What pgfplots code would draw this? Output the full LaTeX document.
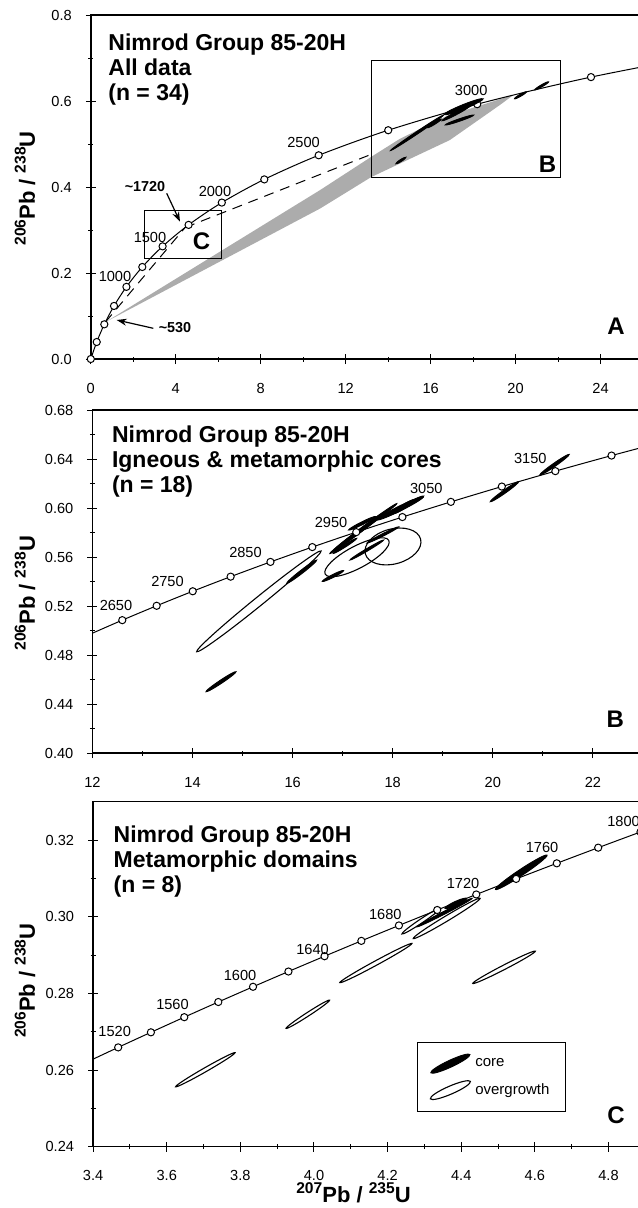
\documentclass[border=0pt]{standalone}
\usepackage{fontspec}
\setmainfont{Liberation Sans}
\usepackage{pgfplots}
\pgfplotsset{compat=1.18}
\usetikzlibrary{arrows.meta}

% ellipse marker: semi-axes a, b (pt) and angle t (deg) come from the table
\newcommand\ellpath[3]{%
  \pgfkeys{/pgf/fpu=false}%
  \pgfmathsetmacro\elax{(#1)*cos(#3)}%
  \pgfmathsetmacro\elay{(#1)*sin(#3)}%
  \pgfmathsetmacro\elbx{-(#2)*sin(#3)}%
  \pgfmathsetmacro\elby{(#2)*cos(#3)}%
  \pgfpathellipse{\pgfpointorigin}{\pgfpoint{\elax pt}{\elay pt}}{\pgfpoint{\elbx pt}{\elby pt}}}
\pgfdeclareplotmark{ellf}{\ellpath{\elA}{\elB}{\elT}\pgfusepathqfillstroke}
\pgfdeclareplotmark{ello}{\ellpath{\elA}{\elB}{\elT}\pgfusepathqstroke}
\pgfdeclareplotmark{legf}{\ellpath{10.8}{1.7}{25}\pgfusepathqfillstroke}
\pgfdeclareplotmark{lego}{\ellpath{10.9}{2.0}{23.5}\pgfusepathqstroke}

\newcommand\fT{\fontsize{11.5}{12.5}\selectfont\bfseries}
\newcommand\fN{\fontsize{7.3}{8}\selectfont}
\newcommand\fP{\fontsize{12}{14}\selectfont\bfseries}
\newcommand\fB{\fontsize{7.2}{8}\selectfont\bfseries}
\newcommand\iso[1]{\raisebox{0.42em}{\fontsize{7.8}{8}\selectfont\bfseries #1}}
\newcommand\ratio[2]{{\fontsize{11}{12}\selectfont\bfseries\iso{#1}Pb / \iso{#2}U}}

\pgfplotsset{
  nim/.style={
    scale only axis, anchor=south west, clip=true,
    axis line style={line width=0.75pt},
    tick pos=left, tick align=center,
    major tick length=5pt, minor tick length=2.5pt,
    every tick/.style={black, line width=0.5pt},
    minor x tick num=1, minor y tick num=1,
    tick label style={font=\fontsize{7.3}{8}\selectfont},
    xticklabel style={yshift=-6pt},
    yticklabel style={xshift=-3.5pt},
    /pgf/number format/assume math mode=true,
    every axis y label/.style={rotate=90, anchor=center},
    every axis x label/.style={anchor=center},
  },
  ellfill/.style={scatter, only marks, mark=ellf, point meta=y,
    scatter/use mapped color={draw=black, fill=black},
    mark options={line width=0.45pt},
    visualization depends on={value \thisrow{a}\as\elA},
    visualization depends on={value \thisrow{b}\as\elB},
    visualization depends on={value \thisrow{t}\as\elT}},
  ellopen/.style={ellfill, mark=ello, mark options={line width=0.55pt}},
  conc/.style={smooth, black, line width=0.5pt},
  circ/.style={only marks, mark=*, mark size=1.8pt,
    mark options={fill=white, draw=black, line width=0.5pt}},
  dsh/.style={black, line width=0.5pt, dash pattern=on 5pt off 3.5pt},
}

\begin{document}
\begin{tikzpicture}

% ---------------- panel A ----------------
\begin{axis}[nim, at={(45.4pt,-179.5pt)}, width=276.1pt, height=172pt,
  xmin=0, xmax=26, ymin=0, ymax=0.8,
  xtick={0,4,8,12,16,20,24}, ytick={0,0.2,0.4,0.6,0.8},
  yticklabel style={/pgf/number format/.cd, fixed, fixed zerofill, precision=1},
  ylabel={\ratio{206}{238}},
  ylabel style={at={(axis description cs:-0.1192,0.496)}}]
\addplot[fill=gray!65, draw=none] coordinates {
  (0.685,0.0857) (10.8,0.393) (13.2,0.470) (14.55,0.512) (16.75,0.565) (19.9,0.614)
  (19.27,0.591) (16.9,0.509) (13.2,0.423) (10.8,0.350)} --cycle;
\addplot[dsh] coordinates {(0.685,0.0857) (4.6,0.3151)};
\addplot[dsh] coordinates {(4.441,0.3058) (13.3,0.4778)};
\addplot[conc] coordinates {
  (0,0) (0.27917,0.03954) (0.63628,0.08065) (1.09308,0.12338) (1.67741,0.16780)
  (2.42487,0.21398) (3.38099,0.26199) (4.60404,0.31189) (6.16852,0.36377)
  (8.16978,0.41769) (10.7297,0.47375) (14.0043,0.53203) (18.1931,0.59261)
  (23.5512,0.65559) (30.4052,0.72106)};
\addplot[circ] coordinates {
  (0,0) (0.27917,0.03954) (0.63628,0.08065) (1.09308,0.12338) (1.67741,0.16780)
  (2.42487,0.21398) (3.38099,0.26199) (4.60404,0.31189) (6.16852,0.36377)
  (8.16978,0.41769) (10.7297,0.47375) (14.0043,0.53203) (18.1931,0.59261)
  (23.5512,0.65559)};
\addplot[ellfill] table[row sep=\\] {
  x y a b t \\
  15.358 0.526 16 0.6 33.8 \\
  17.556 0.5867 10.5 1.1 22 \\
  17.2 0.5715 8 0.7 28 \\
  17.359 0.5558 7.5 0.6 19 \\
  14.6 0.4616 3 0.5 33 \\
  20.23 0.6133 3.5 0.5 30 \\
  21.23 0.6353 4 0.5 30 \\
  16.18 0.548 4 0.5 32 \\
};
\addplot[black, line width=0.5pt] coordinates {(2.519,0.2326) (6.163,0.2326) (6.163,0.3449) (2.519,0.3449)} --cycle;
\addplot[black, line width=0.5pt] coordinates {(13.206,0.4226) (22.137,0.4226) (22.137,0.6953) (13.206,0.6953)} --cycle;
\addplot[black, line width=0.6pt, -{Stealth[length=5pt,width=3.5pt]}] coordinates {(3.573,0.3853) (4.2,0.3193)};
\addplot[black, line width=0.6pt, -{Stealth[length=5pt,width=3.5pt]}] coordinates {(2.943,0.0714) (1.219,0.0907)};
\end{axis}

% ---------------- panel B ----------------
\begin{axis}[nim, at={(46.2pt,-376.5pt)}, width=275.3pt, height=171.5pt,
  xmin=12, xmax=23, ymin=0.40, ymax=0.68,
  xtick={12,14,16,18,20,22}, ytick={0.40,0.44,0.48,0.52,0.56,0.60,0.64,0.68},
  yticklabel style={/pgf/number format/.cd, fixed, fixed zerofill, precision=2},
  ylabel={\ratio{206}{238}},
  ylabel style={at={(axis description cs:-0.1224,0.4656)}}]
\addplot[conc] coordinates {
  (11.9437,0.49679) (12.5970,0.50845) (13.2834,0.52019) (14.0043,0.53203)
  (14.7617,0.54396) (15.5572,0.55598) (16.3929,0.56810) (17.2709,0.58031)
  (18.1931,0.59261) (19.1618,0.60501) (20.1795,0.61751) (21.2486,0.63010)
  (22.3715,0.64280) (23.5512,0.65559)};
\addplot[ellopen] table[row sep=\\] {
  x y a b t \\
  15.326 0.5238 40 2.2 39 \\
  17.286 0.5598 18 5.5 28 \\
  18.005 0.5686 14.3 8.75 15 \\
};
\addplot[ellfill] table[row sep=\\] {
  x y a b t \\
  14.569 0.4582 9 0.8 33.7 \\
  16.181 0.548 9.5 0.8 37.8 \\
  16.806 0.5445 6 0.7 27 \\
  17.302 0.580 17.5 0.8 37 \\
  17.454 0.5847 19.5 0.8 36.4 \\
  17.481 0.5657 9.8 0.6 30.7 \\
  17.801 0.578 8.9 0.6 27 \\
  18.151 0.5998 13 1.2 26.5 \\
  18.219 0.6011 6 1.0 33.7 \\
  20.232 0.6133 8.7 0.8 35.2 \\
  21.231 0.6353 9 0.8 35 \\
  17.386 0.5875 7.5 0.7 26.6 \\
  18.334 0.6034 8.1 0.8 29 \\
  17.046 0.5691 7 0.6 32.7 \\
};
\addplot[circ] coordinates {
  (12.5970,0.50845) (13.2834,0.52019) (14.0043,0.53203)
  (14.7617,0.54396) (15.5572,0.55598) (16.3929,0.56810) (17.2709,0.58031)
  (18.1931,0.59261) (19.1618,0.60501) (20.1795,0.61751) (21.2486,0.63010)
  (22.3715,0.64280)};
\end{axis}

% ---------------- panel C ----------------
\begin{axis}[nim, at={(46.55pt,-573.35pt)}, width=276.1pt, height=172.5pt,
  xmin=3.4, xmax=4.9, ymin=0.24, ymax=0.33,
  xtick={3.4,3.6,3.8,4.0,4.2,4.4,4.6,4.8}, ytick={0.24,0.26,0.28,0.30,0.32},
  xticklabel style={/pgf/number format/.cd, fixed, fixed zerofill, precision=1},
  yticklabel style={/pgf/number format/.cd, fixed, fixed zerofill, precision=2},
  ylabel={\ratio{206}{238}},
  ylabel style={at={(axis description cs:-0.1233,0.481)}},
  xlabel={\ratio{207}{235}},
  xlabel style={at={(axis description cs:0.4716,-0.1342)}},
  legend style={at={(0.5866,0.3026)}, anchor=north west, draw=black, line width=0.5pt,
    font=\fontsize{7.5}{8}\selectfont, inner xsep=6pt, inner ysep=5pt, row sep=3pt},
  legend cell align=left]
\addlegendimage{legend image code/.code={\pgfsetlinewidth{0.45pt}\pgfsetfillcolor{black}\pgftransformshift{\pgfpoint{10pt}{0pt}}\pgfuseplotmark{legf}}}
\addlegendentry{core}
\addlegendimage{legend image code/.code={\pgfsetlinewidth{0.55pt}\pgftransformshift{\pgfpoint{10pt}{0pt}}\pgfuseplotmark{lego}}}
\addlegendentry{overgrowth}
\addplot[conc, forget plot] coordinates {
  (3.38099,0.26199) (3.46814,0.26591) (3.55702,0.26984) (3.64767,0.27379)
  (3.74012,0.27775) (3.83441,0.28172) (3.93058,0.28570) (4.02866,0.28969)
  (4.12869,0.29370) (4.23072,0.29772) (4.33477,0.30175) (4.44089,0.30580)
  (4.54912,0.30986) (4.65950,0.31393) (4.77208,0.31801) (4.88690,0.32210)
  (5.00401,0.32621)};
\addplot[ellopen, forget plot] table[row sep=\\] {
  x y a b t \\
  3.7048 0.26008 17.1 1.0 29.8 \\
  3.9833 0.27455 13 0.9 33 \\
  4.1680 0.2879 20.5 1.1 28.5 \\
  4.5163 0.2868 17.6 1.1 27.3 \\
  4.2908 0.29885 11.5 1.0 33.9 \\
  4.3606 0.29956 19.5 1.3 31 \\
};
\addplot[ellfill, forget plot] table[row sep=\\] {
  x y a b t \\
  4.563 0.31158 15.5 1.5 33.6 \\
  4.3853 0.30347 6 1.0 24.7 \\
  4.3546 0.30107 15.5 0.7 27.3 \\
};
\addplot[circ, forget plot] coordinates {
  (3.46814,0.26591) (3.55702,0.26984) (3.64767,0.27379)
  (3.74012,0.27775) (3.83441,0.28172) (3.93058,0.28570) (4.02866,0.28969)
  (4.12869,0.29370) (4.23072,0.29772) (4.33477,0.30175) (4.44089,0.30580)
  (4.54912,0.30986) (4.65950,0.31393) (4.77208,0.31801) (4.88690,0.32210)};
\end{axis}

% ---------------- annotations ----------------
\node[anchor=north west, inner sep=0, align=left, font=\fT] at (54pt,-16.7pt) {Nimrod Group 85-20H\\All data\\(n = 34)};
\node[font=\fN] at (57.5pt,-138pt) {1000};
\node[font=\fN] at (75pt,-118.5pt) {1500};
\node[font=\fN] at (107.5pt,-95.5pt) {2000};
\node[font=\fN] at (151.75pt,-71pt) {2500};
\node[font=\fN] at (235.6pt,-45.4pt) {3000};
\node[font=\fB] at (72.5pt,-93.5pt) {\textasciitilde1720};
\node[font=\fB] at (87.5pt,-164pt) {\textasciitilde530};
\node[font=\fP] at (100.8pt,-120.8pt) {C};
\node[font=\fP] at (273.75pt,-82.3pt) {B};
\node[font=\fP] at (308pt,-162.9pt) {A};

\node[anchor=north west, inner sep=0, align=left, font=\fT] at (55.8pt,-212.9pt) {Nimrod Group 85-20H\\Igneous \& metamorphic cores\\(n = 18)};
\node[font=\fN] at (58pt,-302.9pt) {2650};
\node[font=\fN] at (83.75pt,-290.85pt) {2750};
\node[font=\fN] at (122.75pt,-276.15pt) {2850};
\node[font=\fN] at (165.5pt,-261pt) {2950};
\node[font=\fN] at (213.15pt,-244.35pt) {3050};
\node[font=\fN] at (265.15pt,-229.35pt) {3150};
\node[font=\fP] at (307.65pt,-359.5pt) {B};

\node[anchor=north west, inner sep=0, align=left, font=\fT] at (56.65pt,-412.5pt) {Nimrod Group 85-20H\\Metamorphic domains\\(n = 8)};
\node[font=\fN] at (57.35pt,-515.65pt) {1520};
\node[font=\fN] at (86.25pt,-502.1pt) {1560};
\node[font=\fN] at (120pt,-487.9pt) {1600};
\node[font=\fN] at (156.25pt,-474.6pt) {1640};
\node[font=\fN] at (192.65pt,-457.1pt) {1680};
\node[font=\fN] at (231.5pt,-441.6pt) {1720};
\node[font=\fN] at (271pt,-423.75pt) {1760};
\node[font=\fN] at (311.75pt,-410.85pt) {1800};
\node[font=\fP] at (308pt,-557.5pt) {C};

\pgfresetboundingbox
\useasboundingbox (0pt,0pt) rectangle (318.5pt,-604pt);
\end{tikzpicture}
\end{document}
